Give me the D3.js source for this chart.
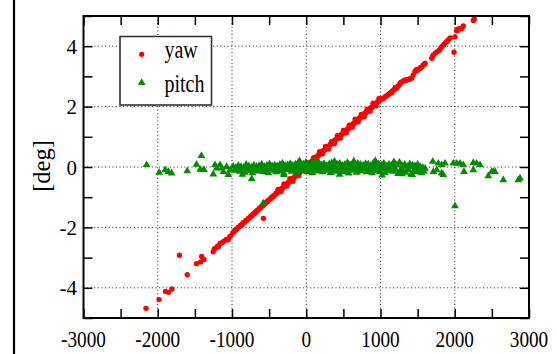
<!DOCTYPE html>
<html><head><meta charset="utf-8">
<script src="https://cdn.jsdelivr.net/npm/d3@7"></script>
<style>body{margin:0;background:#fff}svg{display:block}text{font-family:"Liberation Serif","Times New Roman",serif;fill:#000}</style>
</head><body>
<svg id="c" width="557" height="354"></svg>
<script>
// ---- data ----
const xDomain = [-3000, 3000];
const yDomain = [-5, 5];
const xTickLabels = [-3000, -2000, -1000, 0, 1000, 2000, 3000];
const yTickLabels = [-4, -2, 0, 2, 4];
const seriesNames = ["yaw", "pitch"];
const seriesColors = ["#ff0000", "#008c00"];

const yaw = [
[-2158,-4.68],[-1982,-4.39],[-1895,-4.12],[-1856,-4.15],[-1810,-4.04],[-1708,-2.92],[-1603,-3.57],
[-1478,-3.20],[-1422,-3.14],[-1409,-2.96],[-1378,-3.06],[-1253,-2.81],[-1240,-2.71],[-1215,-2.68],
[-1195,-2.62],[-1181,-2.63],[-1160,-2.53],[-1130,-2.50],[-1108,-2.46],[-1075,-2.40],[-1050,-2.41],
[-1030,-2.31],[-1018,-2.28],[-990,-2.18],[-968,-2.12],[-950,-2.08],[-931,-2.04],[-915,-1.99],
[-897,-1.98],[-880,-1.92],[-862,-1.90],[-848,-1.84],[-829,-1.83],[-812,-1.77],[-796,-1.76],
[-781,-1.70],[-764,-1.69],[-749,-1.63],[-733,-1.62],[-718,-1.56],[-701,-1.55],[-688,-1.50],
[-672,-1.48],[-659,-1.43],[-641,-1.41],[-628,-1.36],[-612,-1.35],[-598,-1.29],[-583,-1.28],
[-578,-1.70],[-566,-1.23],[-551,-1.21],[-537,-1.16],[-522,-1.15],[-508,-1.09],[-494,-1.08],
[-479,-1.05],[-463,-0.99],[-450,-0.99],[-436,-0.94],[-421,-0.92],[-405,-0.87],[-392,-0.86],
[-377,-0.80],[-361,-0.79],[-348,-0.76],[-332,-0.71],[-318,-0.70],[-301,-0.64],[-287,-0.63],
[-272,-0.57],[-258,-0.56],[-243,-0.51],[-229,-0.50],[-214,-0.45],[-199,-0.43],[-185,-0.38],
[-170,-0.37],[-156,-0.32],[-141,-0.30],[-127,-0.25],[-112,-0.24],[-98,-0.19],[-83,-0.17],
[-69,-0.12],[-54,-0.11],[-40,-0.06],[-25,-0.05],[-11,0.01],[4,0.02],[18,0.07],[33,0.08],
[47,0.13],[62,0.15],[76,0.20],[91,0.21],[105,0.26],[120,0.28],[134,0.33],[149,0.34],[163,0.39],
[178,0.41],[192,0.46],[207,0.47],[221,0.52],[236,0.55],[250,0.57],[265,0.62],[279,0.63],
[294,0.68],[308,0.69],[323,0.75],[337,0.76],[352,0.81],[366,0.82],[381,0.88],[395,0.89],
[410,0.94],[424,0.95],[439,1.00],[453,1.02],[468,1.07],[482,1.08],[497,1.13],[511,1.14],
[526,1.20],[540,1.21],[555,1.26],[569,1.27],[584,1.33],[598,1.34],[613,1.39],[627,1.40],
[642,1.46],[656,1.47],[671,1.52],[685,1.53],[700,1.58],[714,1.60],[729,1.65],[743,1.66],
[758,1.71],[772,1.72],[787,1.78],[801,1.79],[816,1.84],[830,1.85],[845,1.91],[859,1.92],
[874,1.97],[888,1.98],[903,2.03],[917,2.05],[932,2.10],[946,2.11],[961,2.16],[975,2.17],
[990,2.21],[1008,2.24],[1022,2.26],[1038,2.27],[1061,2.33],[1084,2.36],[1108,2.40],[1128,2.44],
[1152,2.50],[1176,2.55],[1198,2.58],[1218,2.61],[1241,2.68],[1262,2.75],[1285,2.82],[1308,2.85],
[1331,2.88],[1356,2.89],[1387,2.90],[1420,2.94],[1441,3.05],[1465,3.16],[1489,3.19],[1511,3.23],
[1532,3.27],[1556,3.31],[1577,3.38],[1601,3.44],[1690,3.60],[1702,3.66],[1712,3.71],[1741,3.78],
[1769,3.83],[1792,3.87],[1811,3.93],[1824,3.98],[1848,4.04],[1869,4.10],[1891,4.15],[1913,4.21],
[1938,4.27],[1990,3.80],[2003,4.31],[2026,4.51],[2037,4.56],[2048,4.54],[2066,4.58],[2094,4.59],
[2115,4.67],[2250,4.85],[2263,4.89],
[-380,-0.74],[-340,-0.81],[-300,-0.56],[-260,-0.63],[-220,-0.39],[-180,-0.47],[-140,-0.22],
[-100,-0.28],[-60,-0.02],[-20,-0.10],[20,0.14],[60,0.06],[100,0.31],[140,0.25],[180,0.51],
[220,0.44],[260,0.68],[300,0.60],[340,0.84],[380,0.78],[420,1.04],[460,0.96],[500,1.21],
[540,1.13],[580,1.38],[620,1.32],[660,1.58],[700,1.50],[740,1.74],[780,1.66],[820,1.91],
[860,1.85],[900,2.11],[940,2.03],[980,2.27],
[1150,2.46],[1200,2.63],[1270,2.79],[1340,2.86],[1400,2.93],[1480,3.22],[1540,3.30],[1595,3.40]
];

const pitch = [
[-2150,0.07],[-1980,-0.18],[-1900,-0.10],[-1858,-0.16],[-1813,-0.21],[-1603,-0.13],[-1478,0.08],
[-1412,0.37],[-1428,-0.08],[-1378,-0.09],[-1252,-0.24],[-1229,0.07],[-1206,-0.04],[-1162,0.07],
[-1139,-0.04],[-1117,-0.16],[-1072,0.01],[-1050,-0.26],[-1027,-0.10],[-735,-0.40],[-580,-1.20],
[2003,-1.29],
[-985,0.02],[-950,-0.03],[-915,0.05],[-880,0.01],[-845,-0.02],[-810,0.08],[-775,0.03],[-740,-0.01],
[-705,0.06],[-670,0.02],[-635,0.04],[-600,0.09],[-565,0.01],[-530,0.05],[-495,0.10],[-460,0.03],
[-425,0.06],[-390,0.02],[-355,0.08],[-320,0.12],[-285,0.04],[-250,0.07],[-215,0.11],[-180,0.05],
[-145,0.09],[-110,0.13],[-75,0.06],[-40,0.10],[-5,0.15],[30,0.08],[65,0.12],[100,0.05],
[135,0.09],[170,0.14],[205,0.07],[240,0.11],[275,0.04],[310,0.10],[345,0.13],[380,0.06],
[415,0.09],[450,0.12],[485,0.05],[520,0.08],[555,0.14],[590,0.07],[625,0.10],[660,0.03],
[695,0.12],[730,0.08],[765,0.05],[800,0.11],[835,0.09],[870,0.04],[905,0.13],[940,0.07],
[975,0.10],[1010,0.06],[1045,0.12],[1080,0.03],[1115,0.09],[1150,0.05],[1185,0.11],[1220,0.07],
[1255,0.15],[1290,0.04],[1325,0.08],[1360,0.02],[1395,0.10],[1430,0.06],[1465,0.03],[1500,0.08],
[1535,0.01],[1570,-0.02],
[-968,-0.12],[-933,-0.08],[-898,-0.15],[-863,-0.10],[-828,-0.18],[-793,-0.06],[-758,-0.13],
[-723,-0.20],[-688,-0.09],[-653,-0.14],[-618,-0.07],[-583,-0.16],[-548,-0.11],[-513,-0.19],
[-478,-0.05],[-443,-0.12],[-408,-0.17],[-373,-0.08],[-338,-0.14],[-303,-0.21],[-268,-0.10],
[-233,-0.06],[-198,-0.15],[-163,-0.12],[-128,-0.18],[-93,-0.09],[-58,-0.13],[-23,-0.07],
[12,-0.16],[47,-0.11],[82,-0.20],[117,-0.08],[152,-0.14],[187,-0.10],[222,-0.17],[257,-0.06],
[292,-0.12],[327,-0.19],[362,-0.09],[397,-0.15],[432,-0.11],[467,-0.07],[502,-0.16],[537,-0.13],
[572,-0.21],[607,-0.08],[642,-0.12],[677,-0.18],[712,-0.10],[747,-0.14],[782,-0.06],[817,-0.17],
[852,-0.11],[887,-0.20],[922,-0.09],[957,-0.13],[992,-0.16],[1027,-0.07],[1062,-0.19],[1097,-0.12],
[1132,-0.10],[1167,-0.15],[1202,-0.08],[1237,-0.22],[1272,-0.11],[1307,-0.14],[1342,-0.18],
[1377,-0.09],[1412,-0.24],[1447,-0.13],[1482,-0.17],[1517,-0.10],[1552,-0.20],[1587,-0.15],
[-700,-0.04],[-640,0.00],[-580,-0.06],[-520,-0.02],[-460,-0.05],[-400,0.01],[-340,-0.03],
[-280,-0.07],[-220,-0.01],[-160,-0.04],[-100,0.02],[-40,-0.05],[20,-0.02],[80,-0.06],[140,0.00],
[200,-0.03],[260,-0.05],[320,-0.01],[380,-0.04],[440,0.01],[500,-0.06],[560,-0.02],[620,-0.04],
[680,0.00],[740,-0.05],[800,-0.03],[860,-0.01],[920,-0.06],[980,-0.02],[1040,-0.04],[1100,0.00],
[-90,0.20],[120,0.22],[380,0.18],[640,0.19],[930,0.21],[1180,0.17],[-860,-0.25],[-300,-0.26],
[450,-0.25],[1020,-0.27],[1290,-0.23],
[1442,0.01],[1465,-0.10],[1532,-0.10],[1555,-0.10],[1428,-0.26],[1600,-0.05],[1704,0.18],
[1779,0.12],[1824,0.07],[1869,0.12],[1712,-0.16],[1757,-0.10],[1824,-0.21],[1846,-0.26],
[1980,0.12],[2026,0.12],[2071,0.12],[2115,0.07],[2124,-0.16],[2250,0.14],[2295,0.12],[2340,0.07],
[2250,-0.10],[2452,-0.30],[2497,-0.16],[2519,-0.16],[2542,-0.16],[2654,-0.43],[2856,-0.43],
[2879,-0.37]
];

// ---- drawing ----
const svg = d3.select("#c");
const L = 83.5, R = 529, T = 16, B = 318;
const x = d3.scaleLinear().domain(xDomain).range([L, R]);
const y = d3.scaleLinear().domain(yDomain).range([B, T]);

// far-left black bar
svg.append("line").attr("x1", 14).attr("x2", 14).attr("y1", 0).attr("y2", 354)
  .attr("stroke", "#000").attr("stroke-width", 2.2);

// grid
const grid = svg.append("g").attr("stroke", "#222").attr("stroke-width", 1).attr("stroke-dasharray", "1,2.6");
grid.selectAll(".gx").data([-2000, -1000, 0, 1000, 2000]).join("line")
  .attr("x1", d => x(d)).attr("x2", d => x(d)).attr("y1", T).attr("y2", B);
grid.selectAll(".gy").data([-4, -2, 0, 2, 4]).join("line")
  .attr("x1", L).attr("x2", R).attr("y1", d => y(d)).attr("y2", d => y(d));

// axes with inward ticks
const tl = 9;
svg.append("g").attr("transform", `translate(0,${B})`)
  .call(d3.axisBottom(x).tickValues(d3.range(-3000, 3001, 500)).tickSize(-tl).tickFormat(""))
  .call(g => g.select(".domain").remove());
svg.append("g").attr("transform", `translate(0,${T})`)
  .call(d3.axisTop(x).tickValues(d3.range(-3000, 3001, 500)).tickSize(-tl).tickFormat(""))
  .call(g => g.select(".domain").remove());
svg.append("g").attr("transform", `translate(${L},0)`)
  .call(d3.axisLeft(y).tickValues(d3.range(-5, 6, 1)).tickSize(-tl).tickFormat(""))
  .call(g => g.select(".domain").remove());
svg.append("g").attr("transform", `translate(${R},0)`)
  .call(d3.axisRight(y).tickValues(d3.range(-5, 6, 1)).tickSize(-tl).tickFormat(""))
  .call(g => g.select(".domain").remove());
svg.selectAll(".tick line").attr("stroke", "#000").attr("stroke-width", 1.5);

// points
svg.append("g").selectAll("circle").data(yaw).join("circle")
  .attr("cx", d => x(d[0])).attr("cy", d => y(d[1])).attr("r", 2.7).attr("fill", seriesColors[0]);
const tri = d3.symbol().type(d3.symbolTriangle).size(26);
svg.append("g").selectAll("path").data(pitch).join("path")
  .attr("d", tri).attr("transform", d => `translate(${x(d[0])},${y(d[1])})`).attr("fill", seriesColors[1]);

// frame
svg.append("rect").attr("x", L).attr("y", T).attr("width", R - L).attr("height", B - T)
  .attr("fill", "none").attr("stroke", "#000").attr("stroke-width", 2);

// tick labels
svg.append("g").selectAll("text").data(xTickLabels).join("text")
  .attr("transform", d => `translate(${x(d)},346.5) scale(0.8,1)`)
  .attr("text-anchor", "middle").attr("font-size", 24).text(d => d);
svg.append("g").selectAll("text").data(yTickLabels).join("text")
  .attr("transform", d => `translate(77,${y(d) + 7.5}) scale(0.95,1)`)
  .attr("text-anchor", "end").attr("font-size", 22).text(d => d);

// y label
svg.append("text").attr("transform", "translate(50,166) rotate(-90)")
  .attr("text-anchor", "middle").attr("font-size", 24.5).text("[deg]");

// legend
const lg = svg.append("g");
lg.append("rect").attr("x", 120).attr("y", 36.5).attr("width", 91.5).attr("height", 68.5)
  .attr("fill", "#fff").attr("stroke", "#333").attr("stroke-width", 1.6);
lg.append("circle").attr("cx", 141.7).attr("cy", 54.3).attr("r", 2.6).attr("fill", seriesColors[0]);
lg.append("path").attr("d", tri).attr("transform", "translate(141.7,82.7)").attr("fill", seriesColors[1]);
const legendBase = [57.5, 91.5];
lg.selectAll("text").data(seriesNames).join("text")
  .attr("transform", (d, i) => `translate(164.5,${legendBase[i]}) scale(0.8,1)`)
  .attr("font-size", 25).text(d => d);
</script>
</body></html>
